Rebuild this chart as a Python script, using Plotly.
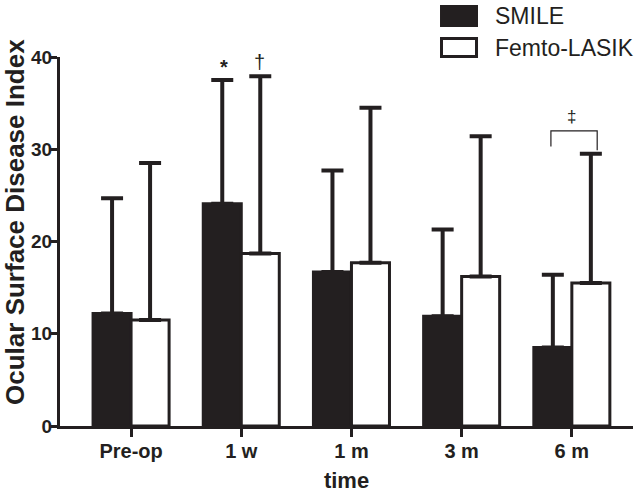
import plotly.graph_objects as go

categories = ["Pre-op", "1 w", "1 m", "3 m", "6 m"]
smile_mean = [12.2, 24.1, 16.7, 11.9, 8.5]
smile_sd = [12.5, 13.4, 11.0, 9.4, 7.9]
femto_mean = [11.5, 18.7, 17.7, 16.2, 15.5]
femto_sd = [17.0, 19.2, 16.8, 15.2, 14.0]
y_ticks = [0, 10, 20, 30, 40]

FONT = "Arial, 'Liberation Sans', sans-serif"
INK = "#231f20"

x_idx = list(range(len(categories)))

fig = go.Figure()
fig.add_trace(go.Bar(
    name="SMILE", x=x_idx, y=smile_mean,
    marker=dict(color=INK, line=dict(color=INK, width=3)),
    error_y=dict(type="data", symmetric=False, array=smile_sd,
                 arrayminus=[0] * len(smile_sd), color=INK, thickness=4, width=11),
))
fig.add_trace(go.Bar(
    name="Femto-LASIK", x=x_idx, y=femto_mean,
    marker=dict(color="white", line=dict(color=INK, width=3)),
    error_y=dict(type="data", symmetric=False, array=femto_sd,
                 arrayminus=[0] * len(femto_sd), color=INK, thickness=4, width=11),
))

fig.update_layout(
    width=643, height=498,
    margin=dict(l=60, r=10, t=57, b=72, autoexpand=False),
    paper_bgcolor="white", plot_bgcolor="white",
    barmode="group", bargap=0.31, bargroupgap=0,
    showlegend=False,
    font=dict(family=FONT, color=INK),
)
fig.update_xaxes(
    range=[-0.645, 4.555], tickmode="array", tickvals=x_idx, ticktext=categories,
    showline=True, linecolor=INK, linewidth=3, showgrid=False, zeroline=False,
    ticks="outside", ticklen=8, tickwidth=2.5, tickcolor=INK, ticklabelstandoff=-3,
    tickfont=dict(family=FONT, size=20, weight="bold", color=INK),
    title=dict(text="time", font=dict(family=FONT, size=22, weight="bold", color=INK), standoff=12),
)
fig.update_yaxes(
    range=[0, 40], tickmode="array", tickvals=y_ticks,
    showline=True, linecolor=INK, linewidth=3, showgrid=False, zeroline=False,
    ticks="outside", ticklen=6, tickwidth=2.5, tickcolor=INK, ticklabelstandoff=-5,
    tickfont=dict(family=FONT, size=19, weight="bold", color=INK),
)

# y-axis title placed to match the reference
fig.add_annotation(xref="paper", yref="paper", x=-0.0785, y=0.553,
                   text="Ocular Surface Disease Index", textangle=-90, showarrow=False,
                   xanchor="center", yanchor="middle",
                   font=dict(family=FONT, size=26, weight="bold", color=INK))

# significance marks
fig.add_annotation(x=0.844, y=38.9, text="*", showarrow=False,
                   font=dict(family=FONT, size=20, weight="bold", color=INK), yanchor="middle")
fig.add_annotation(x=1.166, y=39.5, text="†", showarrow=False,
                   font=dict(family=FONT, size=20, color=INK), yanchor="middle")
fig.add_annotation(x=4.0, y=33.6, text="‡", showarrow=False,
                   font=dict(family=FONT, size=17, color=INK), yanchor="middle")
fig.add_shape(type="path", xref="x", yref="y",
              path="M 3.81 30.3 L 3.81 32.0 L 4.23 32.0 L 4.23 29.9",
              line=dict(color=INK, width=1.2))

# legend drawn as boxes + text
fig.add_shape(type="rect", xref="paper", yref="paper",
              x0=0.6632, x1=0.7295, y0=1.0813, y1=1.1409,
              fillcolor=INK, line=dict(color=INK, width=0))
fig.add_shape(type="rect", xref="paper", yref="paper",
              x0=0.6658, x1=0.7269, y0=1.0014, y1=1.0501,
              fillcolor="white", line=dict(color=INK, width=3))
fig.add_annotation(xref="paper", yref="paper", x=0.7557, y=1.1111, text="SMILE",
                   showarrow=False, xanchor="left", yanchor="middle",
                   font=dict(family=FONT, size=23, color=INK))
fig.add_annotation(xref="paper", yref="paper", x=0.7557, y=1.0244, text="Femto-LASIK",
                   showarrow=False, xanchor="left", yanchor="middle",
                   font=dict(family=FONT, size=23, color=INK))

fig.write_html("out.html", config={"displayModeBar": False},
               post_script="document.body.style.margin='0px';")
